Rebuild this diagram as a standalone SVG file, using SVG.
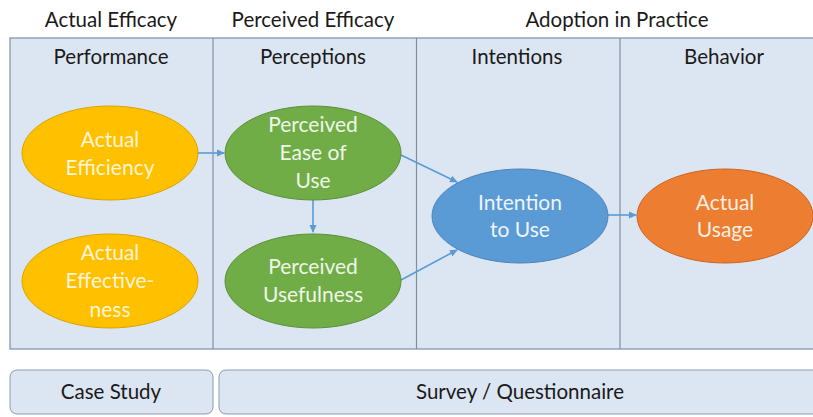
<svg xmlns="http://www.w3.org/2000/svg" width="813" height="417" viewBox="0 0 813 417">
<defs>
<style>
.hd{font-family:Lato,"Open Sans",sans-serif;font-size:20.5px;fill:#1a1a1a;text-anchor:middle}
.nt{font-family:Lato,"Open Sans",sans-serif;font-size:21px;text-anchor:middle}
.lane{fill:#dce6f2;stroke:#7d8fa6;stroke-width:1.2}
.cn{stroke:#5b9bd5;stroke-width:1.6;fill:none;marker-end:url(#ah)}
</style>
<marker id="ah" markerWidth="8" markerHeight="8" refX="7" refY="4" orient="auto" markerUnits="userSpaceOnUse">
<path d="M0,0.5 L8,4 L0,7.5 Z" fill="#5b9bd5"/>
</marker>
</defs>
<rect width="813" height="417" fill="#ffffff"/>
<g id="headers">
<text class="hd" x="111" y="27">Actual Efficacy</text>
<text class="hd" x="313" y="27">Perceived Efficacy</text>
<text class="hd" x="617" y="27">Adoption in Practice</text>
</g>
<g id="lanes">
<rect class="lane" x="10" y="38" width="820" height="311"/>
<line x1="213" y1="38" x2="213" y2="349" stroke="#7d8fa6" stroke-width="1.2"/>
<line x1="416.5" y1="38" x2="416.5" y2="349" stroke="#7d8fa6" stroke-width="1.2"/>
<line x1="620" y1="38" x2="620" y2="349" stroke="#7d8fa6" stroke-width="1.2"/>
<text class="hd" x="111" y="64">Performance</text>
<text class="hd" x="313" y="64">Perceptions</text>
<text class="hd" x="517" y="64">Intentions</text>
<text class="hd" x="724" y="64">Behavior</text>
</g>
<g id="connectors">
<line class="cn" x1="198" y1="153" x2="224" y2="153"/>
<line class="cn" x1="313" y1="200" x2="313" y2="232"/>
<line class="cn" x1="401" y1="155" x2="457" y2="182"/>
<line class="cn" x1="401" y1="280" x2="457" y2="250"/>
<line class="cn" x1="608" y1="215" x2="636" y2="215"/>
</g>
<g id="n-efficiency">
<ellipse cx="110" cy="153" rx="88" ry="47" fill="#ffc000" stroke="#d9a300" stroke-width="1"/>
<text class="nt" x="110" y="147" fill="#fff5d6">Actual</text>
<text class="nt" x="110" y="175" fill="#fff5d6">Efficiency</text>
</g>
<g id="n-effectiveness">
<ellipse cx="110" cy="281" rx="88" ry="47" fill="#ffc000" stroke="#d9a300" stroke-width="1"/>
<text class="nt" x="110" y="260" fill="#fff5d6">Actual</text>
<text class="nt" x="110" y="288" fill="#fff5d6">Effective-</text>
<text class="nt" x="110" y="317" fill="#fff5d6">ness</text>
</g>
<g id="n-peou">
<ellipse cx="313" cy="153" rx="88" ry="47" fill="#70ad47" stroke="#5a8f38" stroke-width="1"/>
<text class="nt" x="313" y="132" fill="#eef6e8">Perceived</text>
<text class="nt" x="313" y="160" fill="#eef6e8">Ease of</text>
<text class="nt" x="313" y="188" fill="#eef6e8">Use</text>
</g>
<g id="n-pu">
<ellipse cx="313" cy="281" rx="88" ry="47" fill="#70ad47" stroke="#5a8f38" stroke-width="1"/>
<text class="nt" x="313" y="274" fill="#eef6e8">Perceived</text>
<text class="nt" x="313" y="302" fill="#eef6e8">Usefulness</text>
</g>
<g id="n-intention">
<ellipse cx="520" cy="216" rx="88" ry="47" fill="#5b9bd5" stroke="#4a84ba" stroke-width="1"/>
<text class="nt" x="520" y="210" fill="#eef4fb">Intention</text>
<text class="nt" x="520" y="237" fill="#eef4fb">to Use</text>
</g>
<g id="n-usage">
<ellipse cx="725" cy="216" rx="88" ry="47" fill="#ed7d31" stroke="#c9661f" stroke-width="1"/>
<text class="nt" x="725" y="210" fill="#fdeee2">Actual</text>
<text class="nt" x="725" y="237" fill="#fdeee2">Usage</text>
</g>
<g id="n-casestudy">
<rect x="10" y="370" width="203" height="44" rx="7" fill="#dce6f2" stroke="#8a9bb0" stroke-width="1"/>
<text class="hd" x="111" y="399">Case Study</text>
</g>
<g id="n-survey">
<rect x="219" y="370" width="605" height="44" rx="7" fill="#dce6f2" stroke="#8a9bb0" stroke-width="1"/>
<text class="hd" x="520" y="399">Survey / Questionnaire</text>
</g>
</svg>
